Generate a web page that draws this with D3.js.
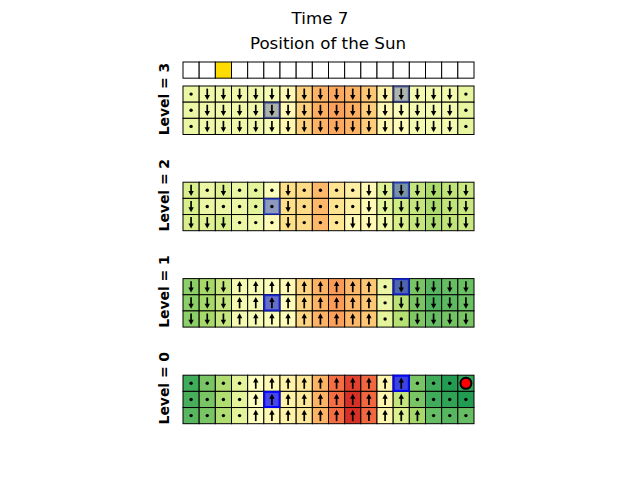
<!DOCTYPE html>
<html><head><meta charset="utf-8">
<script src="https://cdn.jsdelivr.net/npm/d3@7"></script>
<style>body{margin:0;background:#fff}svg{display:block}</style>
</head><body>
<svg id="c" width="640" height="480"></svg>
<script>
// ---------- data ----------
const title = "Time 7";
const sunTitle = "Position of the Sun";
const nCols = 18;
const sunPosition = 2;
const levels = [3, 2, 1, 0];
const levelLabels = ["Level = 3", "Level = 2", "Level = 1", "Level = 0"];

const level3Values = [
  [0.45,0.46,0.46,0.46,0.46,0.48,0.52,0.63,0.69,0.71,0.69,0.65,0.54,0.50,0.47,0.47,0.47,0.44],
  [0.45,0.46,0.46,0.46,0.46,0.49,0.52,0.63,0.70,0.72,0.70,0.64,0.52,0.49,0.47,0.47,0.47,0.44],
  [0.45,0.46,0.46,0.46,0.46,0.48,0.53,0.63,0.69,0.71,0.69,0.64,0.53,0.51,0.47,0.47,0.47,0.44]
];
const level2Values = [
  [0.40,0.45,0.41,0.45,0.43,0.49,0.60,0.61,0.68,0.59,0.55,0.52,0.42,0.38,0.36,0.31,0.35,0.37],
  [0.40,0.45,0.45,0.45,0.43,0.48,0.60,0.61,0.68,0.59,0.55,0.52,0.43,0.38,0.36,0.31,0.35,0.37],
  [0.40,0.42,0.40,0.45,0.46,0.51,0.60,0.61,0.68,0.58,0.52,0.52,0.46,0.40,0.36,0.32,0.35,0.37]
];
const level1Values = [
  [0.26,0.30,0.36,0.47,0.48,0.49,0.52,0.62,0.69,0.73,0.68,0.65,0.45,0.35,0.23,0.18,0.20,0.21],
  [0.26,0.30,0.36,0.47,0.48,0.49,0.51,0.62,0.69,0.73,0.68,0.65,0.45,0.34,0.23,0.17,0.19,0.21],
  [0.26,0.30,0.36,0.47,0.48,0.49,0.51,0.62,0.69,0.72,0.68,0.65,0.43,0.33,0.24,0.20,0.22,0.23]
];
const level0Values = [
  [0.15,0.23,0.32,0.43,0.50,0.52,0.54,0.57,0.69,0.80,0.87,0.81,0.53,0.40,0.23,0.15,0.11,0.13],
  [0.16,0.23,0.32,0.43,0.50,0.52,0.54,0.57,0.69,0.80,0.90,0.81,0.53,0.36,0.23,0.15,0.13,0.11],
  [0.18,0.23,0.32,0.43,0.50,0.52,0.54,0.57,0.69,0.80,0.90,0.81,0.53,0.41,0.30,0.20,0.18,0.20]
];
// d = down arrow, u = up arrow, o = dot
const level3Arrows = ["oddddddddddddddddo","oddddddddddddddddo","oddddddddddddddddo"];
const level2Arrows = ["dodooodooooddddddd","dooooodooooddddddd","dddooodooodddddddd"];
const level1Arrows = ["ddduuuuuuuuuoddddd","ddduuuuuuuuuoddddd","ddduuuuuuuuuoodddd"];
const level0Arrows = ["oooouuuuuuuuuuoooo","oooouuuuuuuuuuoooo","oooouuuuuuuuuuuooo"];
const highlightCells = [[0,13],[1,5]];           // [row, col]
const highlightAlpha = [0.34, 0.48, 0.62, 0.72];  // per panel (level 3..0)
const highlightColor = ["#10208a", "#1a30c8", "#0a18d0", "#0000ff"];
const agent = {panel: 3, row: 0, col: 17};

const panelValues = [level3Values, level2Values, level1Values, level0Values];
const panelArrows = [level3Arrows, level2Arrows, level1Arrows, level0Arrows];
const cmapColors = ["#006837","#1a9850","#66bd63","#a6d96a","#d9ef8b","#ffffbf","#fee08b","#fdae61","#f46d43","#d73027","#a50026"];

// ---------- layout ----------
const svg = d3.select("#c");
const left = 183, right = 474;
const panelTops = [86, 182.2, 278.6, 375.2];
const sunTop = 62;
const x = d3.scaleBand().domain(d3.range(nCols)).range([left, right]).padding(0);
const cw = x.bandwidth();
const color = d3.scaleLinear().domain(d3.range(11).map(i => i / 10)).range(cmapColors).clamp(true);

svg.append("text").attr("x", 320).attr("y", 24).attr("text-anchor", "middle")
  .style("font-family", "DejaVu Sans").style("font-size", "16.7px").text(title);
svg.append("text").attr("x", 328).attr("y", 49).attr("text-anchor", "middle")
  .style("font-family", "DejaVu Sans").style("font-size", "16.7px").text(sunTitle);

// sun row
svg.append("g").selectAll("rect").data(d3.range(nCols)).join("rect")
  .attr("x", d => x(d)).attr("y", sunTop).attr("width", cw).attr("height", cw)
  .attr("fill", d => d === sunPosition ? "#ffdc00" : "#ffffff")
  .attr("stroke", "#000").attr("stroke-width", 1);

panelValues.forEach((vals, p) => {
  const top = panelTops[p];
  const y = d3.scaleBand().domain([0, 1, 2]).range([top, top + 3 * cw]).padding(0);
  const g = svg.append("g");
  const cells = [];
  vals.forEach((row, r) => row.forEach((v, c) => cells.push({r, c, v, a: panelArrows[p][r][c]})));
  g.selectAll("rect.cell").data(cells).join("rect").attr("class", "cell")
    .attr("x", d => x(d.c)).attr("y", d => y(d.r)).attr("width", cw).attr("height", y.bandwidth())
    .attr("fill", d => color(d.v)).attr("stroke", "#000").attr("stroke-width", 1);
  // highlights
  const al = highlightAlpha[p];
  g.selectAll("rect.hl").data(highlightCells).join("rect").attr("class", "hl")
    .attr("x", d => x(d[1]) + 0.5).attr("y", d => y(d[0]) + 0.5)
    .attr("width", cw - 1).attr("height", y.bandwidth() - 1)
    .attr("fill", highlightColor[p]).attr("fill-opacity", al)
    .attr("stroke", highlightColor[p]).attr("stroke-opacity", Math.min(1, al + 0.2)).attr("stroke-width", 2);
  // arrows / dots
  cells.forEach(d => {
    const cx = x(d.c) + cw / 2, cy = y(d.r) + y.bandwidth() / 2;
    if (d.a === "o") {
      g.append("circle").attr("cx", cx).attr("cy", cy).attr("r", 1.7).attr("fill", "#000");
    } else {
      const s = d.a === "d" ? 1 : -1;
      g.append("line").attr("x1", cx).attr("x2", cx).attr("y1", cy - s * 5.5).attr("y2", cy + s * 2)
        .attr("stroke", "#000").attr("stroke-width", 1.7);
      g.append("path").attr("d", `M${cx - 2.7},${cy + s * 0.8}L${cx + 2.7},${cy + s * 0.8}L${cx},${cy + s * 5.8}Z`)
        .attr("fill", "#000");
    }
  });
  // label
  const ly = top + 3 * cw - 35.5;
  svg.append("text").attr("transform", `translate(169,${ly}) rotate(-90)`).attr("text-anchor", "middle")
    .style("font-family", "DejaVu Sans").style("font-weight", "bold").style("font-size", "13.9px")
    .text(levelLabels[p]);
  if (p === agent.panel) {
    g.append("circle").attr("cx", x(agent.col) + cw / 2).attr("cy", y(agent.row) + y.bandwidth() / 2)
      .attr("r", 5.5).attr("fill", "red").attr("stroke", "#000").attr("stroke-width", 2);
  }
});
</script>
</body></html>
